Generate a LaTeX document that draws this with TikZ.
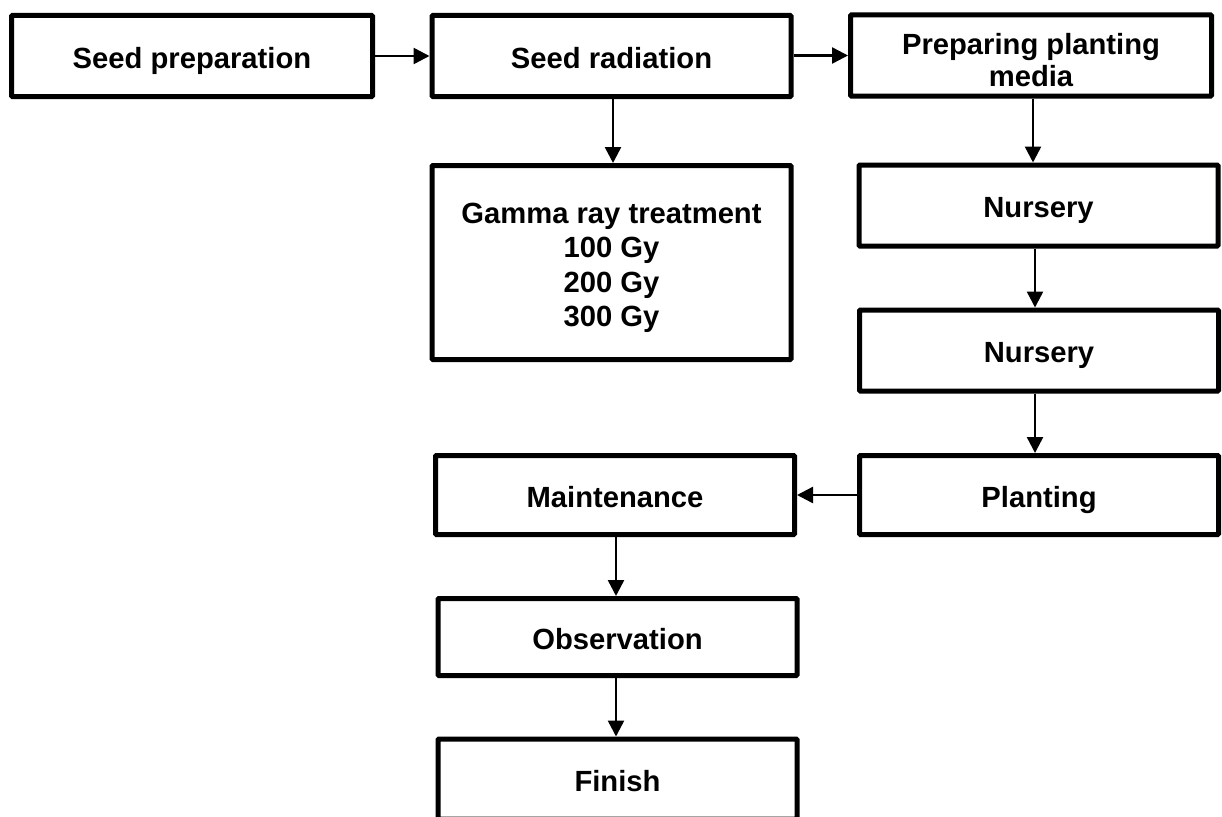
\documentclass[tikz,border=0pt]{standalone}
\usepackage{fontspec}
\setmainfont{Liberation Sans}
\usetikzlibrary{arrows.meta}

\begin{document}
\begin{tikzpicture}[x=1pt, y=-1pt,
    box/.style={draw, line width=5pt, rounded corners=1pt, rectangle, align=center,
        minimum width=359pt, minimum height=81pt, inner sep=0pt,
        font=\fontsize{29.2}{34.5}\selectfont\bfseries},
    oneline/.style={box, text height=24pt, text depth=0pt},
    flow/.style={line width=2.5pt, -{Triangle[length=16pt,width=16pt]}}]
                \def\h{80};
                \useasboundingbox (0,0) rectangle (1222,816);

                %Draw the top row
                \node[oneline, minimum width=361pt] (prep) at (192,56) {Seed preparation};
                \node[oneline] (rad) at (611.5,56) {Seed radiation};
                \node[box, minimum width=361pt] (media) at (1031,55.5)
                    {\rule{0pt}{30pt}Preparing planting\\[-3pt]media};

                %Draw the treatment box
                \node[box, minimum height=194pt] (gamma) at (611.5,262.5)
                    {\rule{0pt}{31pt}Gamma ray treatment\\100 Gy\\200 Gy\\300 Gy};

                %Draw the right column
                \node[oneline] (nurs1) at (1038.5,205.5) {Nursery};
                \node[oneline] (nurs2) at (1039,350.5) {Nursery};
                \node[oneline, minimum height=79pt] (plant) at (1039,495) {Planting};

                %Draw the lower column
                \node[oneline, minimum height=79pt] (maint) at (615,495) {Maintenance};
                \node[oneline, minimum height=77pt] (obs) at (617.5,637) {Observation};
                \node[oneline, minimum height=\h pt] (finish) at (617.5,779) {Finish};

                %Draw the arrows
                \draw[flow] (prep.east) -- (rad.west |- prep.east);
                \draw[flow] (rad.east |- media.west) -- (media.west);
                \draw[flow] ([xshift=1.5pt]rad.south) -- ([xshift=1.5pt]gamma.north);
                \draw[flow] ([xshift=2pt]media.south) -- ([xshift=2pt]media.south |- nurs1.north);
                \draw[flow] ([xshift=-3.5pt]nurs1.south) -- ([xshift=-4pt]nurs2.north);
                \draw[flow] ([xshift=-4pt]nurs2.south) -- ([xshift=-4pt]plant.north);
                \draw[flow] (plant.west) -- (maint.east);
                \draw[flow] ([xshift=1pt]maint.south) -- ([xshift=-1.5pt]obs.north);
                \draw[flow] ([xshift=-1.5pt]obs.south) -- ([xshift=-1.5pt]finish.north);

            \end{tikzpicture}
\end{document}
